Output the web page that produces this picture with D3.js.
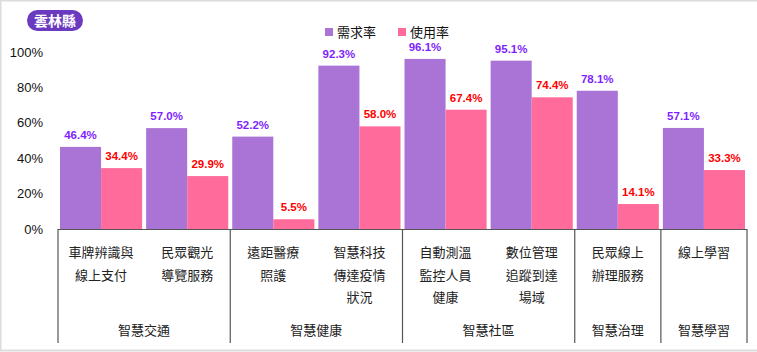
<!DOCTYPE html>
<html>
<head>
<meta charset="utf-8">
<script src="https://cdn.jsdelivr.net/npm/d3@7"></script>
<style>
  body { margin: 0; background: #fff; }
  svg text { font-family: "Liberation Sans", Arial, "Noto Sans CJK TC", sans-serif; }
  .cjk { font-family: "Noto Sans CJK TC", sans-serif; }
</style>
</head>
<body>
<svg id="chart" width="757" height="352"></svg>
<script>
// data
var categories = [
  "車牌辨識與\n線上支付", "民眾觀光\n導覽服務", "遠距醫療\n照護", "智慧科技\n傳達疫情\n狀況",
  "自動測溫\n監控人員\n健康", "數位管理\n追蹤到達\n場域", "民眾線上\n辦理服務", "線上學習"
];
var groups = ["智慧交通", "智慧健康", "智慧社區", "智慧治理", "智慧學習"];
var groupSizes = [2, 2, 2, 1, 1];
var seriesNames = ["需求率", "使用率"];
var demand = [46.4, 57.0, 52.2, 92.3, 96.1, 95.1, 78.1, 57.1];
var usage = [34.4, 29.9, 5.5, 58.0, 67.4, 74.4, 14.1, 33.3];
var yTicks = [0, 20, 40, 60, 80, 100];

var barColors = ["#a974d6", "#ff6b9b"];
var labelColors = ["#7f1fff", "#ff0000"];

var svg = d3.select("#chart");

// outer frame
svg.append("rect")
  .attr("x", 0.5).attr("y", 0.5)
  .attr("width", 760).attr("height", 350)
  .attr("fill", "none")
  .attr("stroke", "#dcdcdc")
  .attr("stroke-width", 2);

var x = d3.scaleBand()
  .domain(d3.range(categories.length))
  .range([58, 747]);

var xs = d3.scaleBand()
  .domain([0, 1])
  .range([2, x.bandwidth() - 2]);

var y = d3.scaleLinear()
  .domain([0, 100])
  .range([229, 52]);

// y tick labels
svg.append("g").selectAll("text")
  .data(yTicks)
  .enter().append("text")
  .attr("x", 43)
  .attr("y", d => y(d))
  .attr("dy", "0.35em")
  .attr("text-anchor", "end")
  .attr("font-size", 13)
  .attr("fill", "#111")
  .text(d => d + "%");

// bars
var rows = categories.map((c, i) => [demand[i], usage[i]]);

var cat = svg.append("g").selectAll("g")
  .data(rows)
  .enter().append("g")
  .attr("transform", (d, i) => "translate(" + x(i) + ",0)");

cat.selectAll("rect")
  .data(d => d)
  .enter().append("rect")
  .attr("x", (d, j) => xs(j))
  .attr("y", d => y(d))
  .attr("width", xs.bandwidth())
  .attr("height", d => y(0) - y(d))
  .attr("fill", (d, j) => barColors[j]);

cat.selectAll("text")
  .data(d => d)
  .enter().append("text")
  .attr("x", (d, j) => xs(j) + xs.bandwidth() / 2)
  .attr("y", d => y(d) - 8)
  .attr("text-anchor", "middle")
  .attr("font-size", 11.5)
  .attr("font-weight", "bold")
  .attr("fill", (d, j) => labelColors[j])
  .text(d => d.toFixed(1) + "%");

// x axis line and group separators
var axis = svg.append("g")
  .attr("stroke", "#555")
  .attr("stroke-width", 1.2);

axis.append("line")
  .attr("x1", x(0)).attr("x2", x.range()[1])
  .attr("y1", y(0) + 0.5).attr("y2", y(0) + 0.5);

var bounds = [0];
groupSizes.forEach(s => bounds.push(bounds[bounds.length - 1] + s));

axis.selectAll(".sep")
  .data(bounds)
  .enter().append("line")
  .attr("class", "sep")
  .attr("x1", d => (d < categories.length ? x(d) : x.range()[1]))
  .attr("x2", d => (d < categories.length ? x(d) : x.range()[1]))
  .attr("y1", y(0))
  .attr("y2", 343);

// category labels
var catLabels = svg.append("g").selectAll("text")
  .data(categories)
  .enter().append("text")
  .attr("class", "cjk")
  .attr("x", (d, i) => x(i) + x.bandwidth() / 2)
  .attr("y", 257)
  .attr("text-anchor", "middle")
  .attr("font-size", 13)
  .attr("fill", "#222");

catLabels.selectAll("tspan")
  .data(d => d.split("\n"))
  .enter().append("tspan")
  .attr("x", function () { return d3.select(this.parentNode).attr("x"); })
  .attr("dy", (d, k) => (k === 0 ? 0 : 22.5))
  .text(d => d);

// group labels
svg.append("g").selectAll("text")
  .data(groups)
  .enter().append("text")
  .attr("class", "cjk")
  .attr("x", (d, i) => {
    var a = bounds[i], b = bounds[i + 1];
    var xa = x(a), xb = b < categories.length ? x(b) : x.range()[1];
    return (xa + xb) / 2;
  })
  .attr("y", 335)
  .attr("text-anchor", "middle")
  .attr("font-size", 13)
  .attr("fill", "#222")
  .text(d => d);

// legend
var legendX = [325, 398];
var lg = svg.append("g").selectAll("g")
  .data(seriesNames)
  .enter().append("g")
  .attr("transform", (d, i) => "translate(" + legendX[i] + ",28)");

lg.append("rect")
  .attr("width", 8).attr("height", 8)
  .attr("fill", (d, i) => barColors[i]);

lg.append("text")
  .attr("class", "cjk")
  .attr("x", 12)
  .attr("y", 4)
  .attr("dy", "0.35em")
  .attr("font-size", 13)
  .attr("fill", "#111")
  .text(d => d);

// county badge
var badge = svg.append("g").attr("transform", "translate(27,10)");
badge.append("rect")
  .attr("width", 56).attr("height", 21)
  .attr("rx", 10.5)
  .attr("fill", "#6a3bc0");
badge.append("text")
  .attr("class", "cjk")
  .attr("x", 28).attr("y", 10.5)
  .attr("dy", "0.36em")
  .attr("text-anchor", "middle")
  .attr("font-size", 14)
  .attr("font-weight", "bold")
  .attr("fill", "#fff")
  .text("雲林縣");
</script>
</body>
</html>
